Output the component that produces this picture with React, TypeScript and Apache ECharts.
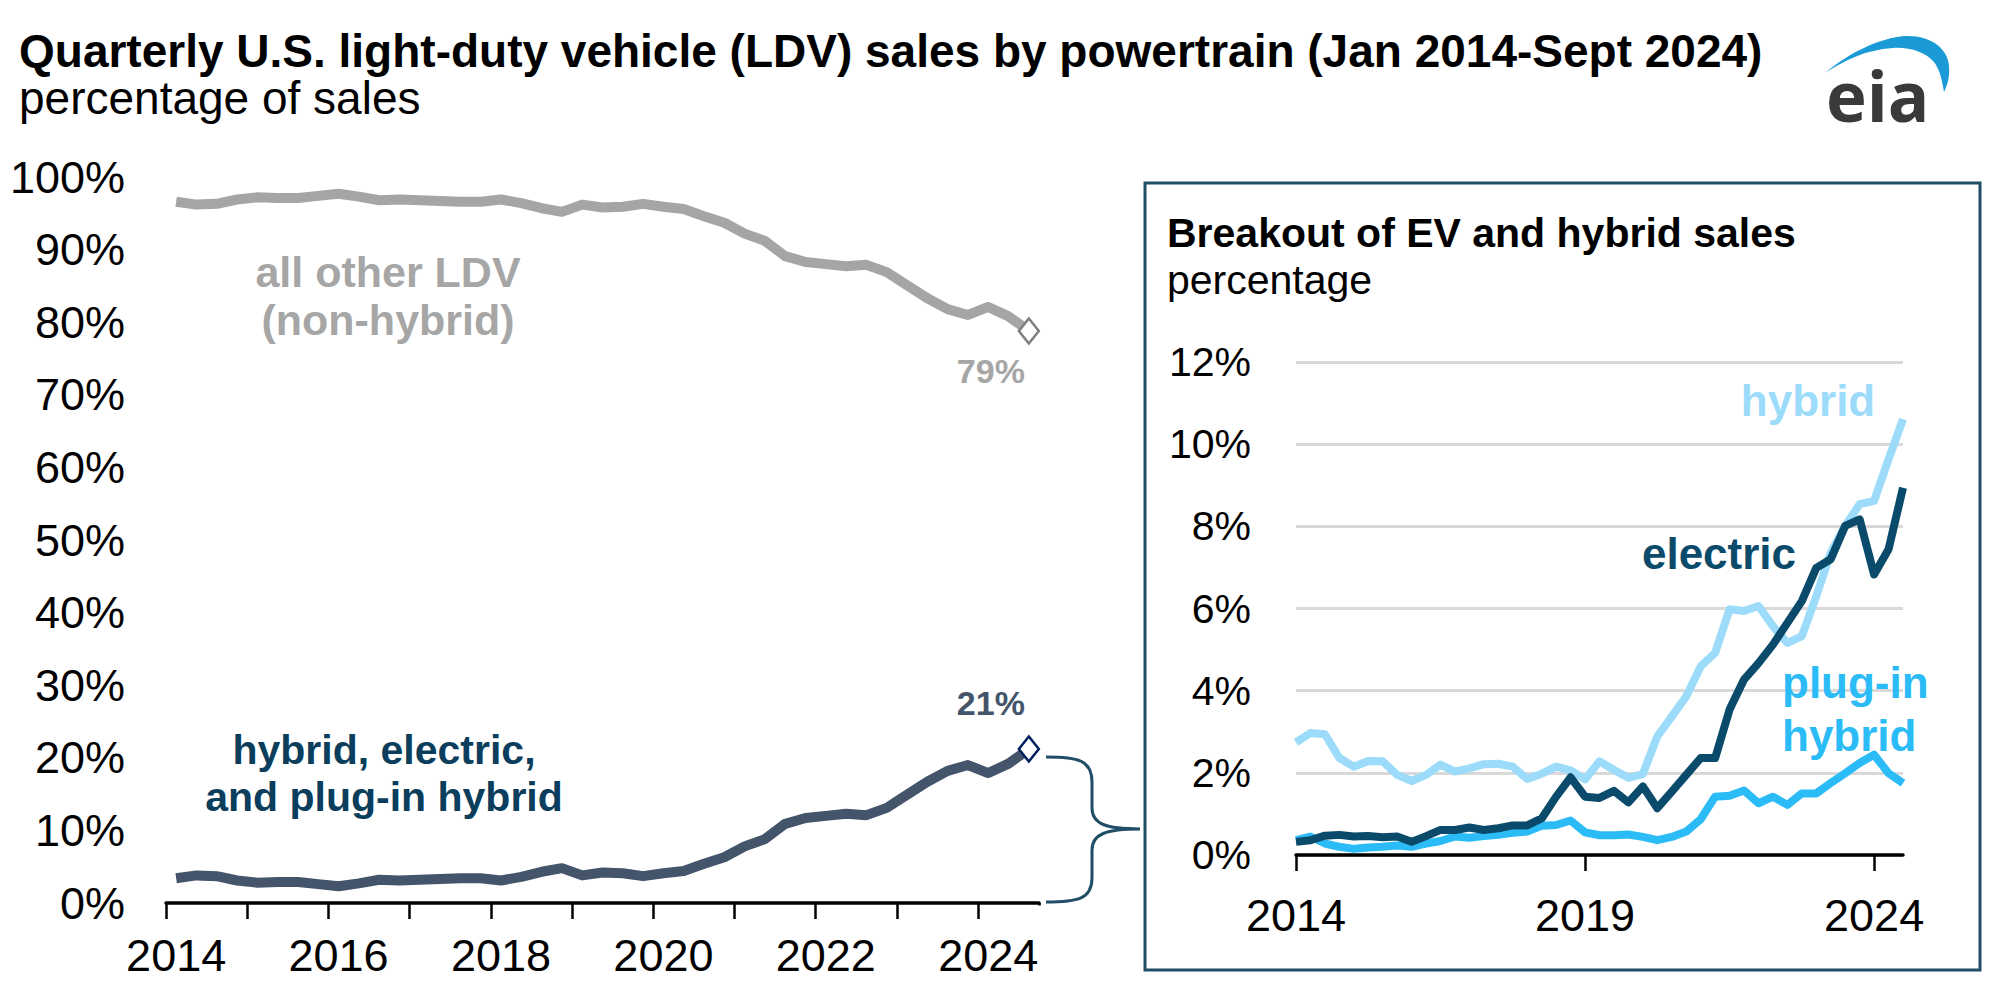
import React, { useEffect, useRef } from "react";
import * as echarts from "echarts";

const FONT = '"Liberation Sans", Arial, sans-serif';

// quarters Jan 2014 - Sept 2024
const quarters = [
  "2014Q1", "2014Q2", "2014Q3", "2014Q4", "2015Q1", "2015Q2", "2015Q3", "2015Q4",
  "2016Q1", "2016Q2", "2016Q3", "2016Q4", "2017Q1", "2017Q2", "2017Q3", "2017Q4",
  "2018Q1", "2018Q2", "2018Q3", "2018Q4", "2019Q1", "2019Q2", "2019Q3", "2019Q4",
  "2020Q1", "2020Q2", "2020Q3", "2020Q4", "2021Q1", "2021Q2", "2021Q3", "2021Q4",
  "2022Q1", "2022Q2", "2022Q3", "2022Q4", "2023Q1", "2023Q2", "2023Q3", "2023Q4",
  "2024Q1", "2024Q2", "2024Q3",
];

// left panel: share of all LDV sales (%)
const otherLdv = [
  96.6, 96.2, 96.3, 96.9, 97.2, 97.1, 97.1, 97.4, 97.7, 97.3, 96.8, 96.9, 96.8, 96.7,
  96.6, 96.6, 96.9, 96.4, 95.7, 95.2, 96.2, 95.8, 95.9, 96.3, 95.9, 95.6, 94.6, 93.7,
  92.2, 91.2, 89.1, 88.3, 88.0, 87.7, 87.9, 86.9, 85.1, 83.3, 81.8, 81.0, 82.1, 80.8, 78.8,
];
const hybridElectric = [
  3.4, 3.8, 3.7, 3.1, 2.8, 2.9, 2.9, 2.6, 2.3, 2.7, 3.2, 3.1, 3.2, 3.3, 3.4, 3.4, 3.1,
  3.6, 4.3, 4.8, 3.8, 4.2, 4.1, 3.7, 4.1, 4.4, 5.4, 6.3, 7.8, 8.8, 10.9, 11.7, 12.0,
  12.3, 12.1, 13.1, 14.9, 16.7, 18.2, 19.0, 17.9, 19.2, 21.2,
];

// inset: breakout (%)
const hybrid = [
  2.74, 2.97, 2.94, 2.36, 2.15, 2.29, 2.28, 1.95, 1.8, 1.95, 2.2, 2.03, 2.11, 2.21, 2.22,
  2.15, 1.85, 1.98, 2.15, 2.06, 1.84, 2.28, 2.07, 1.88, 1.97, 2.89, 3.37, 3.86, 4.59,
  4.92, 5.98, 5.94, 6.06, 5.57, 5.16, 5.33, 6.3, 7.36, 8.01, 8.54, 8.62, 9.63, 10.61,
];
const electric = [
  0.32, 0.36, 0.47, 0.49, 0.45, 0.46, 0.43, 0.45, 0.32, 0.46, 0.61, 0.61, 0.67, 0.61,
  0.65, 0.72, 0.72, 0.89, 1.42, 1.89, 1.42, 1.39, 1.56, 1.28, 1.67, 1.14, 1.54, 1.95,
  2.36, 2.36, 3.54, 4.27, 4.67, 5.12, 5.65, 6.18, 6.99, 7.2, 8.01, 8.17, 6.83, 7.44, 8.94,
];
const plugIn = [
  0.36, 0.45, 0.28, 0.2, 0.15, 0.18, 0.2, 0.23, 0.2, 0.28, 0.34, 0.45, 0.42, 0.46, 0.49,
  0.54, 0.57, 0.71, 0.73, 0.84, 0.55, 0.48, 0.48, 0.5, 0.44, 0.36, 0.44, 0.57, 0.87,
  1.42, 1.44, 1.57, 1.26, 1.42, 1.22, 1.5, 1.5, 1.75, 1.99, 2.24, 2.44, 1.99, 1.75,
];

const BRACE =
  "M1046 757 C1078 757 1092 760 1092 782 L1092 808 C1092 824 1106 829 1140 829 C1106 829 1092 834 1092 850 L1092 878 C1092 899 1078 902 1046 902";
const SWOOSH =
  "M1825 73 C1850 52 1880 38 1905 36 C1930 35 1948 48 1949 66 C1950 78 1947 86 1944 92 C1942 80 1940 70 1934 62 C1925 52 1910 47 1893 48 C1865 50 1845 60 1825 73 Z";

echarts.graphic.registerShape("brace", echarts.graphic.extendPath(BRACE, {}));
echarts.graphic.registerShape("eiaSwoosh", echarts.graphic.extendPath(SWOOSH, {}));

const txt = (x: number, y: number, text: string, font: string, fill: string, align = "left") => ({
  type: "text",
  x,
  y,
  z: 10,
  style: { text, font, fill, textAlign: align, align, textVerticalAlign: "middle", verticalAlign: "middle" },
});

const App: React.FC = () => {
  const chartRef = useRef<HTMLDivElement>(null);

  useEffect(() => {
    const chart = echarts.init(chartRef.current!, null, { renderer: "svg" });
    const last = quarters.length - 1;
    const axisText = { fontSize: 45, color: "#000", fontFamily: FONT };

    const options = {
      animation: false,
      backgroundColor: "#fff",
      textStyle: { fontFamily: FONT },
      grid: [
        { left: 166, top: 177, width: 873, height: 726 },
        { left: 1296, top: 362, width: 607, height: 493 },
      ],
      xAxis: [
        {
          type: "category",
          gridIndex: 0,
          data: quarters,
          boundaryGap: true,
          axisLine: { show: true, lineStyle: { color: "#000", width: 3.5 } },
          axisTick: {
            show: true,
            alignWithLabel: false,
            interval: 3,
            length: 16,
            lineStyle: { color: "#000", width: 2.5 },
          },
          axisLabel: { ...axisText, interval: 7, margin: 30, formatter: (v: string) => v.slice(0, 4) },
        },
        {
          type: "category",
          gridIndex: 1,
          data: quarters,
          boundaryGap: false,
          axisLine: { show: true, lineStyle: { color: "#000", width: 3.5 } },
          axisTick: {
            show: true,
            interval: (i: number) => i % 20 === 0,
            length: 16,
            lineStyle: { color: "#000", width: 2.5 },
          },
          axisLabel: {
            ...axisText,
            interval: (i: number) => i % 20 === 0,
            margin: 38,
            formatter: (v: string) => v.slice(0, 4),
          },
        },
      ],
      yAxis: [
        {
          type: "value",
          gridIndex: 0,
          min: 0,
          max: 100,
          interval: 10,
          axisLine: { show: false },
          axisTick: { show: false },
          splitLine: { show: false },
          axisLabel: { ...axisText, margin: 41, formatter: "{value}%" },
        },
        {
          type: "value",
          gridIndex: 1,
          min: 0,
          max: 12,
          interval: 2,
          axisLine: { show: false },
          axisTick: { show: false },
          splitLine: { show: true, lineStyle: { color: "#d9d9d9", width: 3 } },
          axisLabel: { ...axisText, fontSize: 41, margin: 45, formatter: "{value}%" },
        },
      ],
      series: [
        {
          name: "all other LDV",
          type: "line",
          xAxisIndex: 0,
          yAxisIndex: 0,
          data: otherLdv,
          symbol: "none",
          lineStyle: { color: "#a5a5a5", width: 10, join: "round" },
          markPoint: {
            symbol: "diamond",
            symbolSize: [20, 25],
            itemStyle: { color: "#fff", borderColor: "#7f7f7f", borderWidth: 2.5 },
            label: {
              show: true,
              position: "bottom",
              offset: [-38, 4],
              formatter: "79%",
              fontSize: 34,
              fontWeight: "bold",
              color: "#a6a6a6",
              fontFamily: FONT,
            },
            data: [{ coord: [quarters[last], otherLdv[last]] }],
          },
        },
        {
          name: "hybrid, electric, and plug-in hybrid",
          type: "line",
          xAxisIndex: 0,
          yAxisIndex: 0,
          data: hybridElectric,
          symbol: "none",
          lineStyle: { color: "#44546a", width: 10, join: "round" },
          markPoint: {
            symbol: "diamond",
            symbolSize: [20, 25],
            itemStyle: { color: "#fff", borderColor: "#002060", borderWidth: 2.5 },
            label: {
              show: true,
              position: "top",
              offset: [-38, -10],
              formatter: "21%",
              fontSize: 34,
              fontWeight: "bold",
              color: "#44546a",
              fontFamily: FONT,
            },
            data: [{ coord: [quarters[last], hybridElectric[last]] }],
          },
        },
        {
          name: "hybrid",
          type: "line",
          xAxisIndex: 1,
          yAxisIndex: 1,
          data: hybrid,
          symbol: "none",
          lineStyle: { color: "#9cdcfa", width: 8, join: "round" },
        },
        {
          name: "plug-in hybrid",
          type: "line",
          xAxisIndex: 1,
          yAxisIndex: 1,
          data: plugIn,
          symbol: "none",
          lineStyle: { color: "#2bbcf7", width: 8, join: "round" },
        },
        {
          name: "electric",
          type: "line",
          xAxisIndex: 1,
          yAxisIndex: 1,
          data: electric,
          symbol: "none",
          lineStyle: { color: "#0a4a6a", width: 8, join: "round" },
        },
      ],
      graphic: [
        txt(19, 51, "Quarterly U.S. light-duty vehicle (LDV) sales by powertrain (Jan 2014-Sept 2024)", `bold 46px ${FONT}`, "#000"),
        txt(19, 98, "percentage of sales", `46px ${FONT}`, "#000"),
        {
          type: "eiaSwoosh",
          x: 0,
          y: 0,
          style: { fill: "#1a9bd7" },
        },
        txt(1826, 95, "eia", `bold 69px "Open Sans", ${FONT}`, "#3a3a3a"),
        txt(388, 272, "all other LDV", `bold 43px ${FONT}`, "#a6a6a6", "center"),
        txt(388, 320, "(non-hybrid)", `bold 43px ${FONT}`, "#a6a6a6", "center"),
        txt(384, 750, "hybrid, electric,", `bold 41px ${FONT}`, "#0b3d5c", "center"),
        txt(384, 797, "and plug-in hybrid", `bold 41px ${FONT}`, "#0b3d5c", "center"),
        // hide the closing band tick ECharts adds at the end of the left axis
        {
          type: "rect",
          z: 20,
          shape: { x: 1034, y: 905.5, width: 10, height: 17 },
          style: { fill: "#fff" },
        },
        {
          type: "brace",
          x: 0,
          y: 0,
          style: { fill: "none", stroke: "#1f4e66", lineWidth: 3 },
        },
        {
          type: "rect",
          shape: { x: 1145, y: 183, width: 835, height: 787 },
          style: { fill: "none", stroke: "#1f4e66", lineWidth: 3 },
        },
        txt(1167, 233, "Breakout of EV and hybrid sales", `bold 41px ${FONT}`, "#000"),
        txt(1167, 280, "percentage", `41px ${FONT}`, "#000"),
        txt(1808, 400, "hybrid", `bold 44px ${FONT}`, "#9cdcfa", "center"),
        txt(1719, 553, "electric", `bold 44px ${FONT}`, "#0a4a6a", "center"),
        txt(1782, 682, "plug-in", `bold 44px ${FONT}`, "#2bbcf7"),
        txt(1782, 735, "hybrid", `bold 44px ${FONT}`, "#2bbcf7"),
      ],
    };
    chart.setOption(options as any);

    return () => {
      chart.dispose();
    };
  }, []);

  return (
    <div
      ref={chartRef}
      style={{ position: "fixed", left: 0, top: 0, width: "1995px", height: "992px" }}
    ></div>
  );
};

export default App;
